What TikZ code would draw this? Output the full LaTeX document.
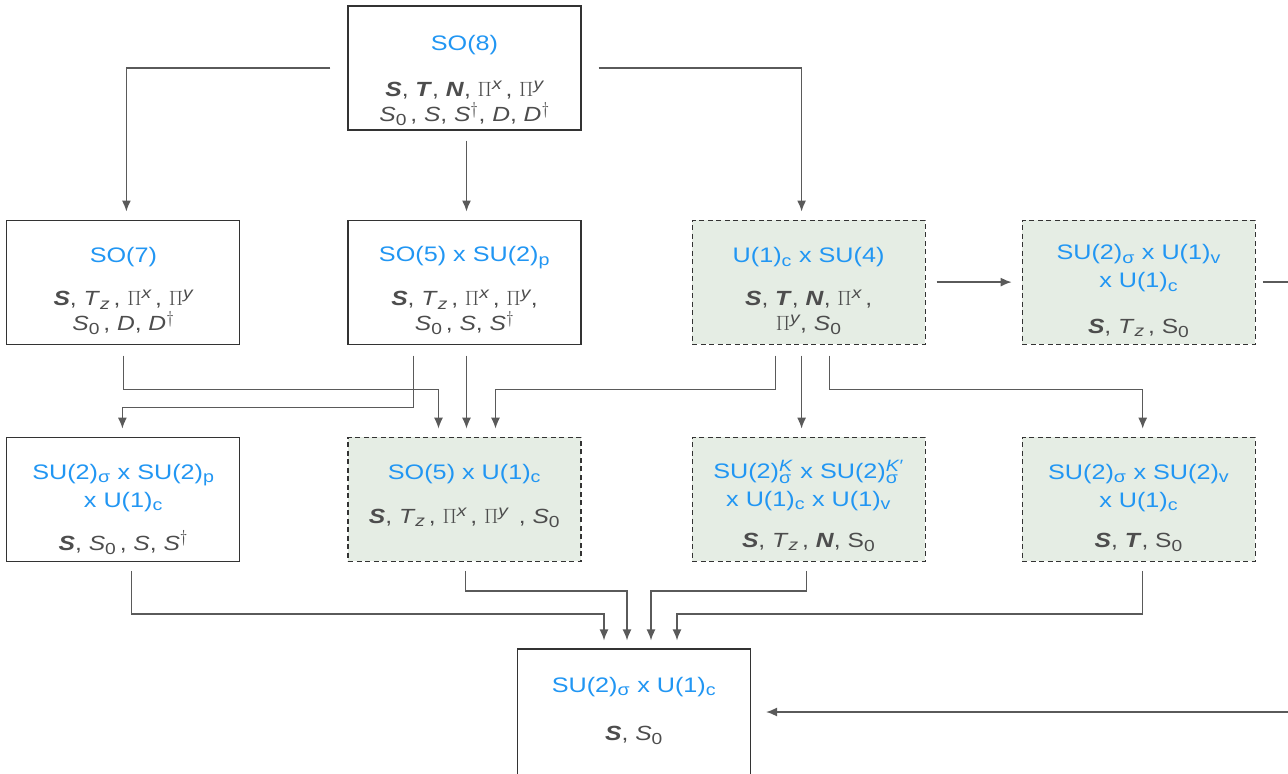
\documentclass[tikz,border=0pt]{standalone}
\usepackage{amsmath}
\usepackage{fontspec}
\setmainfont{Liberation Sans}[FakeStretch=1.2]
\renewcommand{\defaultscriptratio}{.78}
\usetikzlibrary{positioning,arrows.meta,calc}
\definecolor{grpBlue}{HTML}{2196F3}
\definecolor{opsGray}{HTML}{4D4D4D}
\definecolor{lineGray}{HTML}{5A5A5A}
\definecolor{boxStroke}{HTML}{333333}
\definecolor{brkFill}{HTML}{E5EDE4}

\newcommand{\vecS}{\textbf{\textit{S}}}
\newcommand{\vecT}{\textbf{\textit{T}}}
\newcommand{\vecN}{\textbf{\textit{N}}}
\newcommand{\Tz}{\textit{T}\textsubscript{\textit{z}}}
\newcommand{\Sz}{\textit{S}\textsubscript{0}}
\newcommand{\Szup}{S\textsubscript{0}}
\newcommand{\Pix}{$\Pi^{\textit{x}}$}
\newcommand{\Piy}{$\Pi^{\textit{y}}$}
\newcommand{\Sd}{\textit{S}$^{\dagger}$}
\newcommand{\Dd}{\textit{D}$^{\dagger}$}
\newcommand{\grpss}[2]{$^{\text{#2}}_{\text{#1}}$}

\begin{document}
\begin{tikzpicture}[
  x=1bp, y=1bp,
  grp/.style ={draw=boxStroke, fill=white, line width=1.1bp, minimum width=233bp, minimum height=124bp, inner sep=0pt},
  brk/.style ={grp, fill=brkFill, dash pattern=on 5bp off 3.5bp},
  ttl/.style ={text=grpBlue, font=\fontsize{21bp}{28bp}\selectfont, align=center, inner sep=0pt},
  ops/.style ={text=opsGray, font=\fontsize{20.5bp}{25bp}\selectfont, align=center, inner sep=0pt},
  flow/.style={-{Latex[length=11bp,width=9bp]}, lineGray, line width=1.5bp, shorten >=8bp},
]
\useasboundingbox (0,0) rectangle (1288,-774);

% ==================== Row 1 ====================
\node[grp] (so8) at (464.5,-68) {};
\node[ttl] (so8t) at ($(so8.north)+(0,-40)$) {SO(8)};
\node[ops] (so8o) at ($(so8.north)+(0,-98)$) {\vecS, \vecT, \vecN, \Pix\,, \Piy\\ \Sz\,, \textit{S}, \Sd, \textit{D}, \Dd};

% ==================== Row 2 ====================
\node[grp, below=89bp of so8] (so5su2) {};
\node[ttl] (so5su2t) at ($(so5su2.north)+(0,-38)$) {SO(5) x SU(2)\textsubscript{p}};
\node[ops] (so5su2o) at ($(so5su2.north)+(0,-93)$) {\vecS, \Tz\,, \Pix\,, \Piy,\\ \Sz\,, \textit{S}, \Sd};

\node[grp, left=107bp of so5su2] (so7) {};
\node[ttl] (so7t) at ($(so7.north)+(0,-38)$) {SO(7)};
\node[ops] (so7o) at ($(so7.north)+(0,-93)$) {\vecS, \Tz\,, \Pix\,, \Piy\\ \Sz\,, \textit{D}, \Dd};

\node[brk, right=110bp of so5su2] (u1su4) {};
\node[ttl] (u1su4t) at ($(u1su4.north)+(0,-38)$) {U(1)\textsubscript{c} x SU(4)};
\node[ops] (u1su4o) at ($(u1su4.north)+(0,-93)$) {\vecS, \vecT, \vecN, \Pix\,,\\ \Piy, \Sz};

\node[brk, right=96bp of u1su4] (su2u1v) {};
\node[ttl] (su2u1vt) at ($(su2u1v.north)+(0,-49)$) {SU(2)\textsubscript{σ} x U(1)\textsubscript{v}\\x U(1)\textsubscript{c}};
\node[ops] (su2u1vo) at ($(su2u1v.north)+(0,-109)$) {\vecS, \Tz\,, \Szup};

% ==================== Row 3 ====================
\node[grp, below=92bp of so7] (su2su2p) {};
\node[ttl] (su2su2pt) at ($(su2su2p.north)+(0,-51)$) {SU(2)\textsubscript{σ} x SU(2)\textsubscript{p}\\x U(1)\textsubscript{c}};
\node[ops] (su2su2po) at ($(su2su2p.north)+(0,-106)$) {\vecS, \Sz\,, \textit{S}, \Sd};

\node[brk, below=92bp of so5su2] (so5u1) {};
\node[ttl] (so5u1t) at ($(so5u1.north)+(0,-37)$) {SO(5) x U(1)\textsubscript{c}};
\node[ops] (so5u1o) at ($(so5u1.north)+(0,-81)$) {\vecS, \Tz\,, \Pix\,, \Piy\ \,, \Sz};

\node[brk, below=92bp of u1su4] (su2k) {};
\node[ttl] (su2kt) at ($(su2k.north)+(0,-49)$) {SU(2)\grpss{σ}{\textit{K}} x SU(2)\grpss{σ}{\textit{K}′}\\x U(1)\textsubscript{c} x U(1)\textsubscript{v}};
\node[ops] (su2ko) at ($(su2k.north)+(0,-106)$) {\vecS, \Tz\,, \vecN, \Szup};

\node[brk, below=92bp of su2u1v] (su2su2v) {};
\node[ttl] (su2su2vt) at ($(su2su2v.north)+(0,-51)$) {SU(2)\textsubscript{σ} x SU(2)\textsubscript{v}\\x U(1)\textsubscript{c}};
\node[ops] (su2su2vo) at ($(su2su2v.north)+(0,-106)$) {\vecS, \vecT, \Szup};

% ==================== Bottom ====================
\node[grp, minimum height=126bp] (su2u1) at (634,-712) {};
\node[ttl] (su2u1t) at ($(su2u1.north)+(0,-39)$) {SU(2)\textsubscript{σ} x U(1)\textsubscript{c}};
\node[ops] (su2u1o) at ($(su2u1.north)+(0,-87)$) {\vecS, \Sz};

% ==================== Arrows ====================
% from SO(8)
\draw[flow] ([xshift=-17bp]so8.west) -| ([xshift=3bp]so7.north);
\draw[flow] ([shift={(2bp,-10bp)}]so8.south) -- ([xshift=2bp]so5su2.north);
\draw[flow] ([xshift=17bp]so8.east) -| ([xshift=-7bp]u1su4.north);
% U(1) x SU(4) -> SU(2) x U(1) x U(1), and the loop to the bottom
\draw[flow, shorten <=11bp, shorten >=10bp] (u1su4.east) -- (su2u1v.west);
\draw[flow, shorten >=15bp] ([xshift=7bp]su2u1v.east) -- ++(40,0) |- (su2u1.east);

% row 2 -> row 3
\draw[flow] ([yshift=-11bp]so7.south) -- ++(0,-34) -| ([xshift=-26bp]so5u1.north);
\draw[flow] ([shift={(-51bp,-11bp)}]so5su2.south) -- ++(0,-52) -| ([xshift=-1bp]su2su2p.north);
\draw[flow] ([shift={(2bp,-11bp)}]so5su2.south) -- ([xshift=2bp]so5u1.north);
\draw[flow] ([shift={(-33bp,-11bp)}]u1su4.south) -- ++(0,-34) -| ([xshift=31bp]so5u1.north);
\draw[flow] ([shift={(-7bp,-11bp)}]u1su4.south) -- ([xshift=-7bp]su2k.north);
\draw[flow] ([shift={(21bp,-11bp)}]u1su4.south) -- ++(0,-34) -| ([xshift=4bp]su2su2v.north);

% row 3 -> bottom
\draw[flow] ([shift={(8bp,-9bp)}]su2su2p.south) -- ++(0,-43) -| ([xshift=-30bp]su2u1.north);
\draw[flow] ([shift={(1bp,-9bp)}]so5u1.south) -- ++(0,-20) -| ([xshift=-7bp]su2u1.north);
\draw[flow] ([shift={(-2bp,-9bp)}]su2k.south) -- ++(0,-20) -| ([xshift=17bp]su2u1.north);
\draw[flow] ([shift={(4bp,-9bp)}]su2su2v.south) -- ++(0,-43) -| ([xshift=43bp]su2u1.north);

\end{tikzpicture}
\end{document}
